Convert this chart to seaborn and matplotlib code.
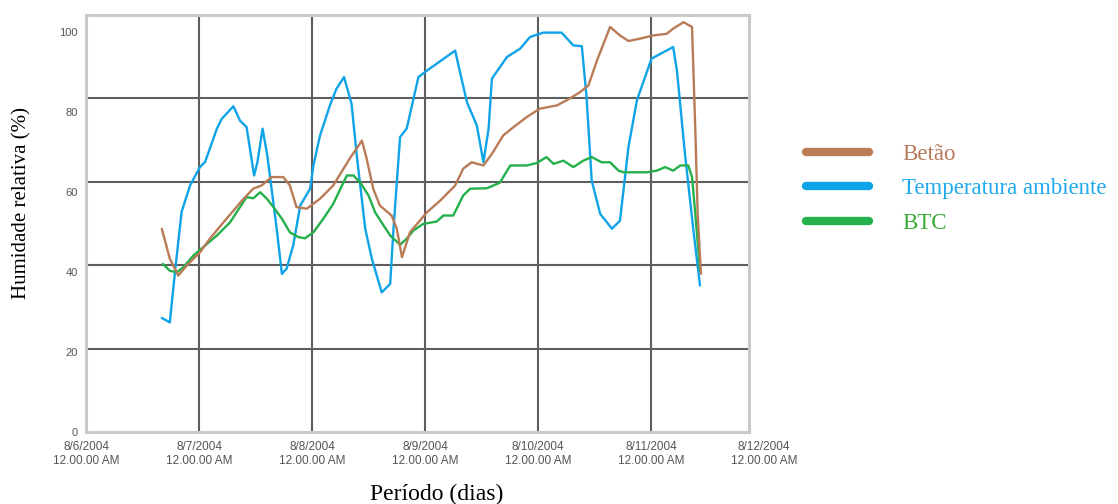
import numpy as np
import pandas as pd
import matplotlib
matplotlib.use("Agg")
import matplotlib.pyplot as plt
import matplotlib.dates as mdates
from matplotlib.ticker import FixedLocator
import seaborn as sns

# ---------------- data (hours since 8/6/2004 00:00, relative humidity %) ----------------
blue_h = [16.1, 17.8, 18.9, 20.3, 22.1, 24.2, 25.3, 27.8, 28.8, 31.3, 32.7, 34.1, 35.7, 36.4, 37.5,
          38.5, 40.5, 41.6, 42.6, 44.0, 45.5, 47.6, 48.3, 49.7, 51.8, 53.2, 54.8, 56.4, 57.5, 59.3,
          60.7, 62.8, 64.6, 65.3, 66.7, 68.1, 70.6, 72.4, 78.4, 79.1, 80.9, 83.0, 84.4, 85.5, 86.2,
          89.4, 92.2, 94.3, 97.1, 101.0, 103.5, 105.3, 106.3, 107.4, 109.2, 111.7, 113.4, 115.2,
          117.0, 120.1, 124.7, 125.5, 127.2, 129.0, 130.4]
blue_v = [28.5, 27.4, 40.0, 55.0, 61.6, 66.2, 67.5, 75.8, 78.2, 81.4, 77.8, 76.2, 64.1, 67.4, 75.8,
          69.1, 50.8, 39.5, 40.8, 46.6, 56.6, 60.8, 66.6, 74.1, 81.6, 85.8, 88.7, 82.0, 69.1, 50.8,
          43.3, 34.9, 37.0, 50.8, 73.7, 75.8, 88.7, 90.3, 95.3, 91.6, 82.4, 76.6, 67.4, 75.8, 88.3,
          93.7, 95.8, 98.7, 99.8, 99.8, 96.6, 96.4, 83.7, 62.8, 54.5, 50.8, 52.8, 71.2,
          82.9, 93.3, 96.2, 90.3, 69.5, 50.3, 36.6]

brown_h = [16.1, 17.8, 19.6, 21.4, 24.2, 26.3, 29.2, 33.1, 35.5, 37.3, 39.4, 41.9, 43.3, 44.7, 46.9,
           49.7, 52.5, 56.1, 58.6, 59.6, 61.0, 62.4, 64.9, 66.0, 67.1, 68.8, 72.4, 75.2, 78.4, 80.1,
           81.9, 84.4, 86.2, 88.6, 90.8, 93.6, 96.4, 100.0, 102.1, 104.9, 106.7, 108.5, 111.3, 113.4,
           115.2, 117.7, 120.5, 123.3, 124.7, 126.9, 128.7, 129.4, 129.9, 130.6]
brown_v = [50.8, 43.3, 39.1, 41.6, 44.9, 48.3, 52.4, 57.8, 60.8, 61.6, 63.7, 63.7, 61.6, 56.2, 55.8,
           58.3, 61.6, 68.5, 72.8, 68.3, 60.8, 56.6, 54.1, 50.8, 43.7, 49.9, 54.9, 57.8, 61.6, 65.8,
           67.4, 66.6, 69.5, 74.1, 76.2, 78.7, 80.8, 81.6, 82.9, 84.9, 86.6, 92.8, 101.2, 99.1,
           97.7, 98.3, 99.1, 99.5, 100.8, 102.4, 101.2, 75.3, 54.5, 39.5]

green_h = [16.3, 17.8, 19.3, 20.7, 22.8, 24.9, 27.8, 30.6, 32.7, 34.1, 35.5, 37.0, 38.4, 39.8, 41.6,
           43.3, 45.1, 46.5, 48.3, 50.4, 52.5, 54.7, 55.4, 56.8, 58.2, 60.0, 61.4, 63.2, 64.6, 66.7,
           68.1, 69.5, 71.6, 74.5, 75.9, 78.0, 80.1, 81.6, 85.1, 87.9, 90.1, 93.6, 95.7, 97.8, 99.3,
           101.4, 103.5, 105.6, 107.4, 109.5, 111.3, 113.1, 114.2, 119.1, 121.2, 123.0, 124.7, 126.2,
           127.9, 128.7, 129.4, 130.4]
green_v = [42.0, 40.3, 39.9, 41.2, 44.1, 46.2, 49.1, 52.4, 56.2, 58.7, 58.4, 59.9, 58.3, 56.2, 53.3,
           49.9, 48.7, 48.4, 49.9, 53.3, 57.0, 62.4, 64.1, 64.1, 62.4, 59.1, 54.9, 51.6, 49.1, 46.8,
           48.3, 50.3, 52.0, 52.6, 54.1, 54.1, 59.1, 60.8, 60.9, 62.3, 66.6, 66.6, 67.2, 68.7, 67.0,
           67.8, 66.2, 67.8, 68.7, 67.4, 67.4, 65.3, 64.9, 64.9, 65.3, 66.2, 65.3, 66.6,
           66.6, 63.7, 54.5, 40.3]

series_names = ["Betão", "Temperatura ambiente", "BTC"]
tick_dates = ["2004-08-06", "2004-08-07", "2004-08-08", "2004-08-09", "2004-08-10", "2004-08-11"]
tick_labels = ["8/6/2004\n12.00.00 AM", "8/7/2004\n12.00.00 AM", "8/8/2004\n12.00.00 AM",
               "8/9/2004\n12.00.00 AM", "8/10/2004\n12.00.00 AM", "8/11/2004\n12.00.00 AM"]
extra_tick_date = "2004-08-12"
extra_tick_label = "8/12/2004\n12.00.00 AM"
y_ticks = [0, 20, 40, 60, 80, 100]

# ---------------- styling ----------------
sns.set_style("white")
plt.rcParams["font.family"] = ["Liberation Sans", "DejaVu Sans"]

BROWN = "#B87B56"
BLUE = "#0FA3E8"
GREEN = "#24B04A"
TXT_BROWN = "#B5795A"
TXT_BLUE = "#1FA9EE"
TXT_GREEN = "#3AAA35"
GRID = "#5E5E5E"
TICK = "#555555"

base = pd.Timestamp("2004-08-06")


def to_df(h, v):
    return pd.DataFrame({"t": base + pd.to_timedelta(np.array(h), unit="h"), "v": v})


fig = plt.figure(figsize=(11.18, 5.04), dpi=100)
ax = fig.add_axes([86 / 1118, 1 - 432 / 504, (749 - 86) / 1118, (432 - 15) / 504])

sns.lineplot(data=to_df(blue_h, blue_v), x="t", y="v", color=BLUE, linewidth=1.7,
             ax=ax, label=series_names[1])
sns.lineplot(data=to_df(green_h, green_v), x="t", y="v", color=GREEN, linewidth=1.7,
             ax=ax, label=series_names[2])
sns.lineplot(data=to_df(brown_h, brown_v), x="t", y="v", color=BROWN, linewidth=1.7,
             ax=ax, label=series_names[0])

YMAX = 104.2
ax.set_ylim(0, YMAX)
ax.set_xlim(mdates.date2num(base), mdates.date2num(base + pd.Timedelta(hours=140.8)))

# ticks
tick_nums = mdates.date2num(pd.to_datetime(tick_dates))
ax.set_xticks(tick_nums)
ax.set_xticklabels(tick_labels)
ax.set_yticks(y_ticks)
ax.set_yticklabels([str(t) for t in y_ticks])
ax.yaxis.set_minor_locator(FixedLocator(list(np.linspace(0, YMAX, 6)[1:-1])))
ax.tick_params(axis="both", which="both", length=0, labelcolor=TICK)
ax.tick_params(axis="x", pad=6.5, labelsize=8.5)
ax.tick_params(axis="y", pad=6, labelsize=8)
for lbl in ax.get_xticklabels():
    lbl.set_linespacing(1.2)

ax.text(mdates.date2num(pd.Timestamp(extra_tick_date)), -0.0216, extra_tick_label,
        transform=ax.get_xaxis_transform(), ha="center", va="top", fontsize=8.5,
        color=TICK, linespacing=1.2, clip_on=False)

# grid
ax.grid(False)
ax.xaxis.grid(True, which="major", color=GRID, linewidth=1.5)
ax.yaxis.grid(True, which="minor", color=GRID, linewidth=1.5)
ax.set_axisbelow(True)

for sp in ax.spines.values():
    sp.set_visible(True)
    sp.set_color("#C9C9C9")
    sp.set_linewidth(2.2)

# axis labels
ax.set_xlabel("Período (dias)", fontsize=17, family="Liberation Serif", color="black")
ax.xaxis.set_label_coords(0.529, -0.125)
ax.set_ylabel("Humidade relativa (%)", fontsize=15, family="Liberation Serif", color="black")
ax.yaxis.set_label_coords(-0.082, 0.55)

# legend
handles, labels = ax.get_legend_handles_labels()
ax.get_legend().remove()
order = [labels.index(n) for n in series_names]
handles = [handles[i] for i in order]
labels = [labels[i] for i in order]
leg = fig.legend(handles, labels, loc="upper left", bbox_to_anchor=(806 / 1118, 1 - 144 / 504),
                 frameon=False, prop={"family": "Liberation Serif", "size": 16.5},
                 handlelength=2.75, handletextpad=1.45, labelspacing=0.58, borderpad=0,
                 borderaxespad=0)
for h in leg.legend_handles:
    h.set_linewidth(6)
    h.set_solid_capstyle("round")
for t, c in zip(leg.get_texts(), [TXT_BROWN, TXT_BLUE, TXT_GREEN]):
    t.set_color(c)

fig.savefig("out.png", dpi=100)
